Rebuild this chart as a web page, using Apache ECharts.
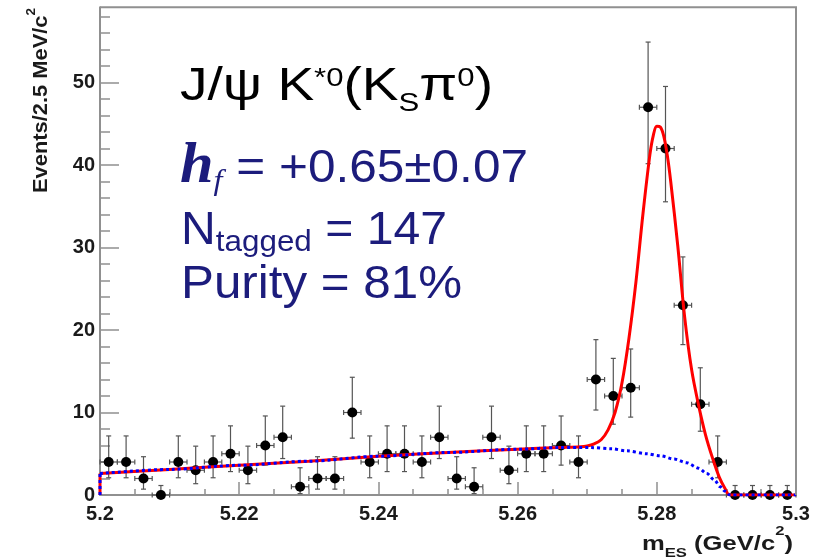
<!DOCTYPE html>
<html><head><meta charset="utf-8">
<script src="https://cdn.jsdelivr.net/npm/echarts@6/dist/echarts.min.js"></script>
<style>html,body{margin:0;padding:0;background:#fff}#c{width:816px;height:558px}</style>
</head><body><div id="c"></div>
<script>
// ---- data ----
const binCenters = [5.20125,5.20375,5.20625,5.20875,5.21125,5.21375,5.21625,5.21875,5.22125,5.22375,
  5.22625,5.22875,5.23125,5.23375,5.23625,5.23875,5.24125,5.24375,5.24625,5.24875,
  5.25125,5.25375,5.25625,5.25875,5.26125,5.26375,5.26625,5.26875,5.27125,5.27375,
  5.27625,5.27875,5.28125,5.28375,5.28625,5.28875,5.29125,5.29375,5.29625,5.29875];
const binHalfWidth = 0.00125;
const counts = [4,4,2,0,4,3,4,5,3,6, 7,1,2,2,10,4,5,5,4,7, 2,1,7,3,5,5,6,4,14,12, 13,47,42,23,11,4,0,0,0,0];
const errLow = [1.91,1.91,1.29,0,1.91,1.63,1.91,2.16,1.63,2.38, 2.58,0.83,1.29,1.29,3.11,1.91,2.16,2.16,1.91,2.58,
  1.29,0.83,2.58,1.63,2.16,2.16,2.38,1.91,3.70,3.42, 3.56,6.84,6.46,4.77,3.27,1.91,0,0,0,0];
const errHigh = [3.16,3.16,2.64,1.15,3.16,2.92,3.16,3.38,2.92,3.58, 3.77,2.30,2.64,2.64,4.27,3.16,3.38,3.38,3.16,3.77,
  2.64,2.30,3.77,2.92,3.38,3.38,3.58,3.16,4.83,4.56, 4.70,7.90,7.52,5.86,4.42,3.16,1.15,1.15,1.15,1.15];

const edgeX = [5.2, 5.2];
const edgeY = [0, 2.6];
const bkgCurveX = [5.2,5.21,5.22,5.23,5.24,5.25,5.26,5.266,5.2705,5.2735,5.2757,5.2785,5.2805,5.2825,5.2843,5.286,5.2872,5.2883,5.2891,5.2898,5.2905,5.3];
const bkgCurveY = [2.6,3.1,3.6,4.1,4.7,5.15,5.55,5.75,5.75,5.6,5.35,5.0,4.75,4.35,3.9,3.25,2.6,1.8,1.0,0.45,0,0];
const fitCurveX = [5.2,5.21,5.22,5.23,5.24,5.25,5.26,5.266,5.269,5.270,5.271,5.272,5.273,5.274,5.275,5.276,5.277,5.278,5.279,5.2795,5.280,5.2805,5.281,5.2815,5.282,5.283,5.284,5.285,5.286,5.287,5.288,5.289,5.2898,5.2905,5.3];
const fitCurveY = [2.6,3.1,3.6,4.1,4.7,5.15,5.55,5.75,5.85,5.95,6.2,6.7,7.9,10.0,13.6,19.0,25.8,34.0,41.2,43.6,44.7,44.6,43.5,41.2,38.0,30.3,21.6,15.2,10.9,7.3,4.5,2.1,0.8,0,0];

const xTickLabels = ['5.2','5.22','5.24','5.26','5.28','5.3'];
const yTickLabels = ['0','10','20','30','40','50'];

// ---- layout helpers ----
const mctx = document.createElement('canvas').getContext('2d');
function measure(t, font){ mctx.font = font; mctx.textBaseline='alphabetic'; return mctx.measureText(t).width; }
function baseOff(font){
  mctx.font = font;
  mctx.textBaseline = 'alphabetic'; const a = mctx.measureText('H').actualBoundingBoxAscent;
  mctx.textBaseline = 'middle'; const m = mctx.measureText('H').actualBoundingBoxAscent;
  mctx.textBaseline = 'alphabetic';
  return a - m;
}
function textLine(x, baseline, segs, targetW, color, rotation){
  let cx = 0; const children = [];
  segs.forEach(s => {
    const w = measure(s.t, s.font);
    children.push({type:'text', x: cx, y: (s.dy||0) - baseOff(s.font),
      style:{text:s.t, font:s.font, fill:s.c||color, align:'left', verticalAlign:'middle'}});
    cx += w;
  });
  const sx = targetW ? targetW / cx : 1;
  return {type:'group', x, y: baseline, scaleX: sx, rotation: rotation||0, children, z: 100};
}
const SANS = "'Liberation Sans', Arial, sans-serif";
const SERIF = "'Liberation Serif', 'Times New Roman', serif";
const NAVY = '#1c1c7c';

const graphics = [
  {type:'rect', shape:{x:90, y:0, width:726, height:6.5}, style:{fill:'#fff'}, z:90},
  {type:'polyline', shape:{points:[[100,7.3],[796,7.3],[796,495]]}, style:{stroke:'#909090', lineWidth:2, fill:null}, z:95},
  textLine(180, 100, [
    {t:'J/ψ K', font:'46px '+SANS},
    {t:'*0', font:'26px '+SANS, dy:-14},
    {t:'(K', font:'46px '+SANS},
    {t:'S', font:'26px '+SANS, dy:11},
    {t:'π', font:'46px '+SANS},
    {t:'0', font:'26px '+SANS, dy:-14},
    {t:')', font:'46px '+SANS}
  ], 313, '#000'),
  textLine(180, 182, [
    {t:'h', font:'italic bold 56px '+SERIF},
    {t:'f', font:'italic 30px '+SERIF, dy:8},
    {t:' = ', font:'46px '+SANS},
    {t:'+0.65±0.07', font:'46px '+SANS}
  ], 348, NAVY),
  textLine(181, 243.5, [
    {t:'N', font:'46px '+SANS},
    {t:'tagged', font:'30px '+SANS, dy:7},
    {t:' = ', font:'46px '+SANS},
    {t:'147', font:'46px '+SANS}
  ], 266, NAVY),
  textLine(181, 297.5, [
    {t:'Purity = 81%', font:'46px '+SANS}
  ], 281, NAVY),
  textLine(642, 550, [
    {t:'m', font:'bold 20px '+SANS},
    {t:'ES', font:'bold 13px '+SANS, dy:7},
    {t:' (GeV/c', font:'bold 20px '+SANS},
    {t:'2', font:'bold 13px '+SANS, dy:-15},
    {t:')', font:'bold 20px '+SANS}
  ], 151, '#1a1a1a'),
  textLine(46.5, 193, [
    {t:'Events/2.5 MeV/c', font:'bold 21px '+SANS},
    {t:'2', font:'bold 13px '+SANS, dy:-12}
  ], 185, '#1a1a1a', Math.PI/2)
];

const chart = echarts.init(document.getElementById('c'), null, {renderer:'canvas'});
const axisColor = '#909090';
chart.setOption({
  animation: false,
  backgroundColor: '#fff',
  grid: {left: 100, right: 20, top: -11.8, bottom: 63, containLabel: false},
  xAxis: {
    type:'value', min:5.2, max:5.3, interval:0.02,
    axisLine:{show:true, onZero:false, lineStyle:{color:axisColor, width:2}},
    axisTick:{show:true, inside:true, length:13, lineStyle:{color:axisColor, width:1.5}},
    minorTick:{show:true, splitNumber:4, length:6, lineStyle:{color:axisColor, width:1.5}},
    splitLine:{show:false},
    axisLabel:{margin:9, fontFamily:SANS, fontWeight:'bold', fontSize:20, color:'#1a1a1a',
      formatter: v => { const i = Math.round((v-5.2)/0.02); return xTickLabels[i] || ''; }}
  },
  yAxis: {
    type:'value', min:0, max:60, interval:10,
    axisLine:{show:true, onZero:false, lineStyle:{color:axisColor, width:2}},
    axisTick:{show:true, inside:true, length:19, lineStyle:{color:axisColor, width:1.5}},
    minorTick:{show:true, splitNumber:5, length:10, lineStyle:{color:axisColor, width:1.5}},
    splitLine:{show:false},
    axisLabel:{margin:5, fontFamily:SANS, fontWeight:'bold', fontSize:20, color:'#1a1a1a',
      formatter: v => { const i = Math.round(v/10); return yTickLabels[i] || ''; }}
  },
  graphic: graphics,
  series: [
    {
      type:'custom', z:2,
      data: binCenters.map((x,i)=>[x, counts[i], errLow[i], errHigh[i]]),
      encode:{x:0, y:1},
      renderItem: (params, api) => {
        const x = api.value(0), y = api.value(1), lo = api.value(2), hi = api.value(3);
        const c = api.coord([x, y]);
        const top = api.coord([x, y + hi])[1];
        const bot = api.coord([x, y - lo])[1];
        const l = api.coord([x - binHalfWidth, y])[0], r = api.coord([x + binHalfWidth, y])[0];
        const st = {stroke:'#555', lineWidth:1.2};
        const ch = [
          {type:'line', shape:{x1:c[0], y1:top, x2:c[0], y2:bot}, style:st},
          {type:'line', shape:{x1:c[0]-2.5, y1:top, x2:c[0]+2.5, y2:top}, style:st},
          {type:'line', shape:{x1:l, y1:c[1], x2:r, y2:c[1]}, style:st},
          {type:'line', shape:{x1:l, y1:c[1]-2.5, x2:l, y2:c[1]+2.5}, style:st},
          {type:'line', shape:{x1:r, y1:c[1]-2.5, x2:r, y2:c[1]+2.5}, style:st},
          {type:'circle', shape:{cx:c[0], cy:c[1], r:5}, style:{fill:'#000'}}
        ];
        if (lo > 0) ch.push({type:'line', shape:{x1:c[0]-2.5, y1:bot, x2:c[0]+2.5, y2:bot}, style:st});
        return {type:'group', children: ch};
      }
    },
    {type:'line', z:3, data: edgeX.map((x,i)=>[x, edgeY[i]]), showSymbol:false, silent:true,
      lineStyle:{color:'#ff0000', width:3}},
    {type:'line', z:3, data: fitCurveX.map((x,i)=>[x, fitCurveY[i]]), showSymbol:false, silent:true,
      smooth:0.35, lineStyle:{color:'#ff0000', width:3}},
    {type:'line', z:4, data: edgeX.map((x,i)=>[x, edgeY[i]]), showSymbol:false, silent:true,
      lineStyle:{color:'#0000ff', width:3, type:[3,3]}},
    {type:'line', z:4, data: bkgCurveX.map((x,i)=>[x, bkgCurveY[i]]), showSymbol:false, silent:true,
      smooth:0.3, smoothMonotone:'x', lineStyle:{color:'#0000ff', width:3, type:[3,3]}}
  ]
});
</script>
</body></html>
